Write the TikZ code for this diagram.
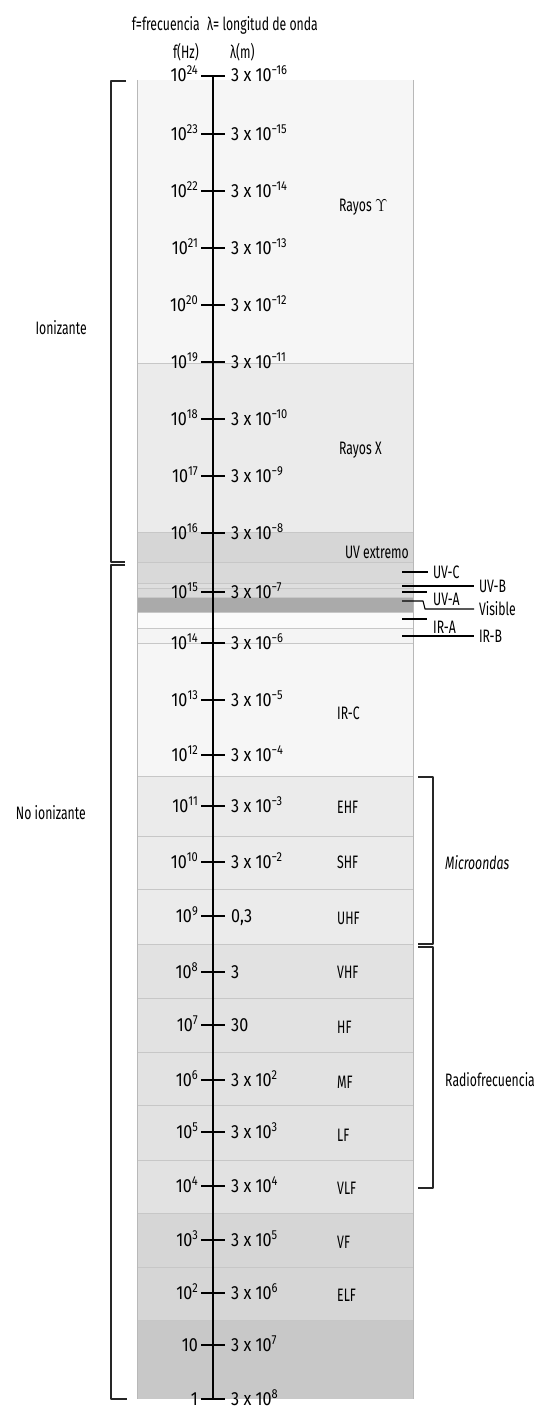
\documentclass[tikz,border=0pt]{standalone}
\usepackage{fontspec}
\setmainfont{Fira Sans}[FakeStretch=0.68]
\newfontfamily\numfont{Fira Sans}[FakeStretch=0.85]
\newcommand\pw[1]{\raisebox{7pt}{\fontsize{13}{13}\selectfont #1}}
\newcommand\ups{{\fontencoding{OT1}\fontfamily{cmr}\selectfont\char"07}}
\begin{document}
\begin{tikzpicture}[x=1pt, y=-1pt, font=\fontsize{18}{20}\selectfont, line join=round,
    sep/.style={black!22, line width=0.8pt},
    num/.style={inner sep=0pt, font=\fontsize{19}{20}\selectfont\numfont},
    tag/.style={anchor=west, inner sep=0pt},
    lead/.style={anchor=west, inner sep=0pt, outer sep=5pt},
    leader/.style={line width=1.1pt},
    brk/.style={line width=1.2pt, black!85}]
\useasboundingbox (0,0) rectangle (540,1410);
\foreach \a/\b/\g in {80/363/3.5, 363/532/8, 532/562/16, 562/583/15, 583/588/13, 588/597/14.5,
    597/612/33.5, 612/628/2, 628/643/4.5, 643/776/3.5, 776/836/8, 836/889/8, 889/944/8,
    944/998/11.5, 998/1052/11.5, 1052/1105/11.5, 1105/1160/11.5, 1160/1213/11.5,
    1213/1267/16, 1267/1320/16, 1320/1399/21.5}
  \fill[black!\g] (137,\a) rectangle (413,\b);
\foreach \b in {363,532,562,583,588,597,612,628,643,776,836,889,944,998,1052,1105,1160,1213,1267,1320}
  \draw[sep] (137,\b) -- (413,\b);
\draw[black!28, line width=0.8pt] (137,80) -- (137,1399) (413,80) -- (413,1399);
\node[anchor=base east, inner sep=0pt] (hf) at (200,31) {f=frecuencia};
\node[anchor=base west, inner sep=0pt] (hl) at (207,31) {λ= longitud de onda};
\node[anchor=base east, inner sep=0pt] (uf) at (199,59) {f(Hz)};
\node[anchor=base west, inner sep=0pt] (ul) at (230,59) {λ(m)};
\draw[line width=1.4pt] (213,76) -- (213,1399);
\foreach \y/\fq/\wl [count=\i] in {76/{10\pw{24}}/{3 x 10\pw{−16}}, 134/{10\pw{23}}/{3 x 10\pw{−15}},
    191/{10\pw{22}}/{3 x 10\pw{−14}}, 248/{10\pw{21}}/{3 x 10\pw{−13}}, 305/{10\pw{20}}/{3 x 10\pw{−12}},
    362/{10\pw{19}}/{3 x 10\pw{−11}}, 419/{10\pw{18}}/{3 x 10\pw{−10}}, 476/{10\pw{17}}/{3 x 10\pw{−9}},
    533/{10\pw{16}}/{3 x 10\pw{−8}}, 592/{10\pw{15}}/{3 x 10\pw{−7}}, 643/{10\pw{14}}/{3 x 10\pw{−6}},
    700/{10\pw{13}}/{3 x 10\pw{−5}}, 755/{10\pw{12}}/{3 x 10\pw{−4}}, 806/{10\pw{11}}/{3 x 10\pw{−3}},
    862/{10\pw{10}}/{3 x 10\pw{−2}}, 916/{10\pw{9}}/{0,3}, 972/{10\pw{8}}/{3}, 1025/{10\pw{7}}/{30},
    1080/{10\pw{6}}/{3 x 10\pw{2}}, 1132/{10\pw{5}}/{3 x 10\pw{3}}, 1186/{10\pw{4}}/{3 x 10\pw{4}},
    1240/{10\pw{3}}/{3 x 10\pw{5}}, 1293/{10\pw{2}}/{3 x 10\pw{6}}, 1345/{10}/{3 x 10\pw{7}},
    1399/{1}/{3 x 10\pw{8}}}{
  \draw[line width=1.2pt] (201,\y) -- (225,\y);
  \node[num, anchor=base east] (f\i) at (198,\y+6) {\fq};
  \node[num, anchor=base west] (w\i) at (231,\y+6) {\wl};
}
\node[tag] (gam) at (339,207) {Rayos \ups};
\node[tag] (rx) at (339,450) {Rayos X};
\node[anchor=east, inner sep=0pt] (uvx) at (409,552) {UV extremo};
\node[tag] (irc) at (337,713) {IR-C};
\foreach \y/\t in {807/EHF, 862/SHF, 918/UHF, 972/VHF, 1027/HF, 1082/MF, 1135/LF, 1188/VLF, 1242/VF, 1295/ELF}
  \node[tag] (\t) at (337,\y) {\t};
\foreach \n/\y/\x/\t in {uvc/572/428/UV-C, uvb/586/474/UV-B, irb/636/474/IR-B}{
  \coordinate (\n-s) at (402,\y);
  \node[lead] (\n) at (\x,\y) {\t};
  \draw[leader] (\n-s) -- (\n.west);
}
\coordinate (uva-s) at (402,592); \coordinate (uva-e) at (427,592);
\node[tag] (uva) at (433,599) {UV-A};
\draw[leader] (uva-s) -- (uva-e);
\coordinate (vis-s) at (402,601);
\node[lead] (vis) at (474,609) {Visible};
\draw[leader] (vis-s) -- (423,601) -- (425,609) -- (vis.west);
\coordinate (ira-s) at (402,619); \coordinate (ira-e) at (427,619);
\node[tag] (ira) at (433,627) {IR-A};
\draw[leader] (ira-s) -- (ira-e);
\draw[brk] (126,81) -- (111,81) -- (111,562) -- (125,562);
\draw[brk] (125,565) -- (111,565) -- (111,1399) -- (127,1399);
\node[anchor=east, inner sep=0pt] (ion) at (87,328) {Ionizante};
\node[anchor=east, inner sep=0pt] (noion) at (86,813) {No ionizante};
\draw[brk] (418,777) -- (433,777) -- (433,944) -- (418,944);
\draw[brk] (418,947) -- (433,947) -- (433,1188) -- (418,1188);
\node[tag] (mic) at (445,863) {\itshape Microondas};
\node[tag] (rad) at (445,1080) {Radiofrecuencia};
\end{tikzpicture}
\end{document}
